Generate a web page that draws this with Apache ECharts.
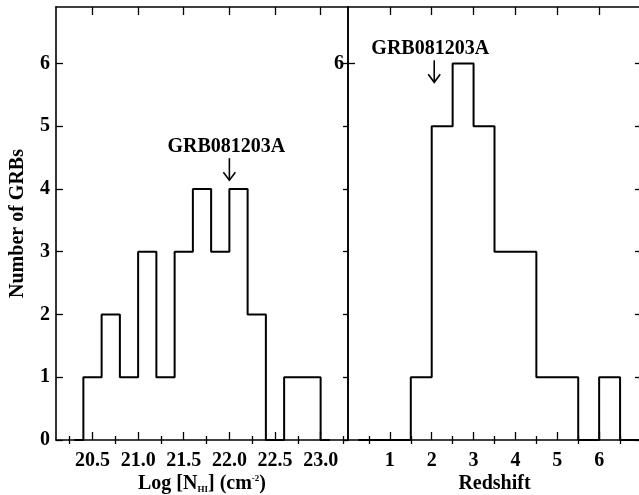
<!DOCTYPE html>
<html>
<head>
<meta charset="utf-8">
<script src="https://cdn.jsdelivr.net/npm/echarts@6/dist/echarts.min.js"></script>
<style>
html,body{margin:0;padding:0;background:#fff;}
#main{width:639px;height:495px;}
</style>
</head>
<body>
<div id="main"></div>
<script>
// ---- data ----
const nhCenters = [20.3, 20.5, 20.7, 20.9, 21.1, 21.3, 21.5, 21.7, 21.9, 22.1, 22.3, 22.5, 22.7, 22.9, 23.1];
const nhCounts  = [0, 1, 2, 1, 3, 1, 3, 4, 3, 4, 2, 0, 1, 1, 0];
const zCenters  = [0.25, 0.75, 1.25, 1.75, 2.25, 2.75, 3.25, 3.75, 4.25, 4.75, 5.25, 5.75, 6.25, 6.75, 7.25];
const zCounts   = [0, 0, 0, 1, 5, 6, 5, 3, 3, 1, 1, 0, 1, 0, 0];
const nhTickLabels = [20.5, 21.0, 21.5, 22.0, 22.5, 23.0];
const nhMinorTicks = [20.25, 20.75, 21.25, 21.75, 22.25, 22.75, 23.25];
const zTickLabels = [1, 2, 3, 4, 5, 6];
const zMajorTicks = [1, 2, 3, 4, 5, 6];
const zMinorTicks = [0.5, 1.5, 2.5, 3.5, 4.5, 5.5, 6.5];
const countTicks = [0, 1, 2, 3, 4, 5, 6];
const rightCountLabels = [6];
const noteText = 'GRB081203A';
const nhNote = [22.0, 4.14];   // arrow tip (x, count)
const zNote = [2.06, 5.7];

const FONT = 'Liberation Serif';
const tf = {fontFamily: FONT, fontWeight: 'bold', fontSize: 20, color: '#000'};
const LW = 1.6;

function xAx(grid, min, max, pos, opts) {
  return Object.assign({
    type: 'value', gridIndex: grid, min: min, max: max, position: pos,
    axisLine: {show: true, onZero: false, lineStyle: {color: '#000', width: LW}},
    splitLine: {show: false},
    axisLabel: {show: false},
    axisTick: {show: false}
  }, opts);
}
function ticks(vals, len) {
  return {show: true, inside: true, length: len, customValues: vals, lineStyle: {color: '#000', width: 1.3}};
}

const xAxes = [
  // left panel
  xAx(0, 20.1, 23.3, 'bottom', {
    axisTick: ticks(nhTickLabels, 8),
    axisLabel: Object.assign({show: true, margin: 11, customValues: nhTickLabels,
      formatter: v => Number(v).toFixed(1)}, tf),
    name: '{a|Log [N}{sub|HI}{a|] (cm}{sup|-2}{a|)}',
    nameLocation: 'middle', nameGap: 34, nameMoveOverlap: false,
    nameTextStyle: {rich: {
      a: {fontFamily: FONT, fontWeight: 'bold', fontSize: 20, color: '#000'},
      sub: {fontFamily: FONT, fontWeight: 'bold', fontSize: 9, color: '#000', verticalAlign: 'bottom'},
      sup: {fontFamily: FONT, fontWeight: 'bold', fontSize: 9, color: '#000', verticalAlign: 'top'}
    }}
  }),
  xAx(0, 20.1, 23.3, 'top', {axisTick: ticks(nhTickLabels, 8)}),
  xAx(0, 20.1, 23.3, 'bottom', {axisLine: {show: false}, axisTick: ticks(nhMinorTicks, 4)}),
  xAx(0, 20.1, 23.3, 'top', {axisLine: {show: false}, axisTick: ticks(nhMinorTicks, 4)}),
  // right panel
  xAx(1, 0, 7, 'bottom', {
    axisTick: ticks(zMajorTicks, 8),
    axisLabel: Object.assign({show: true, margin: 11, customValues: zTickLabels}, tf),
    name: 'Redshift', nameLocation: 'middle', nameGap: 34, nameMoveOverlap: false,
    nameTextStyle: tf
  }),
  xAx(1, 0, 7, 'top', {axisTick: ticks(zMajorTicks, 8)}),
  xAx(1, 0, 7, 'bottom', {axisLine: {show: false}, axisTick: ticks(zMinorTicks, 4)}),
  xAx(1, 0, 7, 'top', {axisLine: {show: false}, axisTick: ticks(zMinorTicks, 4)})
];

function yAx(grid, pos, opts) {
  return Object.assign({
    type: 'value', gridIndex: grid, min: 0, max: 6.9, position: pos,
    axisLine: {show: true, onZero: false, lineStyle: {color: '#000', width: LW}},
    splitLine: {show: false},
    axisLabel: {show: false},
    axisTick: {show: false}
  }, opts);
}
const yAxes = [
  yAx(0, 'left', {
    axisTick: ticks(countTicks, 7),
    axisLabel: Object.assign({show: true, margin: 6, customValues: countTicks}, tf),
    name: 'Number of GRBs', nameLocation: 'middle', nameGap: 28, nameMoveOverlap: false,
    nameTextStyle: tf
  }),
  yAx(0, 'right', {axisTick: ticks(countTicks, 5)}),
  yAx(1, 'left', {
    axisTick: ticks(rightCountLabels, 7),
    axisLabel: Object.assign({show: true, margin: 4, customValues: rightCountLabels}, tf)
  }),
  yAx(1, 'right', {axisTick: ticks(countTicks, 6)})
];

function noteSeries(xi, yi, pt, textDx) {
  return {
    type: 'custom', xAxisIndex: xi, yAxisIndex: yi, clip: false, silent: true,
    data: [pt],
    renderItem: function (params, api) {
      const p = api.coord([api.value(0), api.value(1)]);
      const x = p[0], tip = p[1], top = tip - 22;
      return {type: 'group', children: [
        {type: 'polyline', shape: {points: [[x, top], [x, tip]]}, style: {stroke: '#000', lineWidth: 1.6, fill: null}},
        {type: 'polyline', shape: {points: [[x - 6, tip - 8], [x, tip], [x + 6, tip - 8]]}, style: {stroke: '#000', lineWidth: 1.6, fill: null}},
        {type: 'text', style: {text: noteText, x: x + textDx, y: top - 11, align: 'center', verticalAlign: 'middle',
          font: 'bold 20px "Liberation Serif"', fill: '#000'}}
      ]};
    }
  };
}

const chart = echarts.init(document.getElementById('main'), null, {renderer: 'canvas'});
chart.setOption({
  animation: false,
  backgroundColor: '#fff',
  grid: [
    {left: 56, top: 7, width: 292, height: 433, containLabel: false, outerBoundsMode: 'none'},
    {left: 348, top: 7, width: 293, height: 433, containLabel: false, outerBoundsMode: 'none'}
  ],
  xAxis: xAxes,
  yAxis: yAxes,
  series: [
    {type: 'line', xAxisIndex: 0, yAxisIndex: 0, step: 'middle', symbol: 'none',
      lineStyle: {color: '#000', width: 2}, data: nhCenters.map((c, i) => [c, nhCounts[i]])},
    {type: 'line', xAxisIndex: 4, yAxisIndex: 2, step: 'middle', symbol: 'none',
      lineStyle: {color: '#000', width: 2}, data: zCenters.map((c, i) => [c, zCounts[i]])},
    noteSeries(0, 0, nhNote, -3),
    noteSeries(4, 2, zNote, -4)
  ]
});
</script>
</body>
</html>
